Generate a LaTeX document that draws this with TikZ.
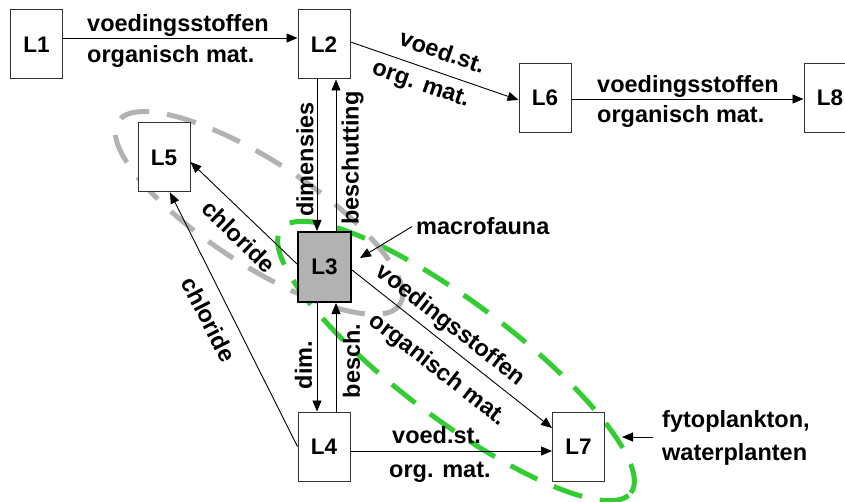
\documentclass[tikz,border=0pt]{standalone}
\usepackage{fontspec}
\setmainfont{Liberation Sans}
\usetikzlibrary{arrows.meta}
\definecolor{ellgreen}{RGB}{51,204,51}
\definecolor{ellgray}{RGB}{178,178,178}
\definecolor{boxgray}{RGB}{178,178,178}
\begin{document}
\begin{tikzpicture}[x=1pt,y=-1pt,
  box/.style={draw=black!80, line width=1pt, fill=white, minimum width=52pt, minimum height=69pt, inner sep=0pt, font=\fontsize{22.5}{26}\selectfont\bfseries},
  lbl/.style={inner sep=0pt, font=\fontsize{23.5}{28}\selectfont\bfseries},
  arr/.style={line width=0.9pt, -{Triangle[length=11pt,width=9pt]}},
  ring/.style={line width=5pt, dash pattern=on 30pt off 18pt}]
\useasboundingbox (0,0) rectangle (845,502);
\clip (0,0) rectangle (845,502);
% dashed groupings
\draw[ring, ellgreen, rotate around={-37:(456,361)}] (456,361) ellipse[x radius=219pt, y radius=58pt];
\draw[ring, ellgray, rotate around={-33:(259,213)}] (259,213) ellipse[x radius=168pt, y radius=52pt];
% boxes
\node[box] (L1) at (36.5,44.5) {L1};
\node[box] (L2) at (324,44.5) {L2};
\node[box] (L5) at (164,157.5) {L5};
\node[box] (L6) at (545,98) {L6};
\node[box] (L8) at (830,98) {L8};
\node[box, fill=boxgray, draw=black, line width=2pt, minimum width=53pt, minimum height=70pt] (L3) at (324.5,267) {L3};
\node[box] (L4) at (324,446.5) {L4};
\node[box] (L7) at (578.5,446.5) {L7};
% connectors
\draw[arr] ([yshift=6.5pt]L1.east) -- ([yshift=6.5pt]L2.west);
\draw[arr] ([yshift=2.5pt]L2.east) -- ([yshift=-2pt]L6.west);
\draw[arr] ([yshift=-1pt]L6.east) -- ([yshift=-1pt]L8.west);
\draw[arr] ([xshift=-7pt]L2.south) -- ([xshift=-7pt]L2.south |- L3.north);
\draw[arr] ([xshift=12pt]L2.south |- L3.north) -- ([xshift=12pt]L2.south);
\draw[arr] ([xshift=-7pt]L4.north |- L3.south) -- ([xshift=-7pt]L4.north);
\draw[arr] ([xshift=12pt]L4.north) -- ([xshift=12pt]L4.north |- L3.south);
\draw[arr] ([yshift=3pt]L3.west) -- ([yshift=-4.5pt]L5.east);
\draw[arr] (L4.west) -- ([xshift=6pt]L5.south);
\draw[arr] ([yshift=-3pt]L3.east) -- ([yshift=18.5pt]L7.west);
\draw[arr] ([yshift=-4.5pt]L4.east) -- ([yshift=-4.5pt]L7.west);
% labels
\node[lbl, anchor=base west] (t12a) at (87,32) {voedingsstoffen};
\node[lbl, anchor=base west] (t12b) at (87,62.5) {organisch mat.};
\node[lbl, anchor=base west] (t68a) at (597,92.5) {voedingsstoffen};
\node[lbl, anchor=base west] (t68b) at (597,122.5) {organisch mat.};
\node[lbl, anchor=base west] (t47a) at (392,443) {voed.st.};
\node[lbl, anchor=base west] (t47b) at (389,477) {org. mat.};
\node[lbl, rotate=-19] (t26a) at (442.5,51.5) {voed.st.};
\node[lbl, rotate=-19] (t26b) at (420.5,85.5) {org. mat.};
\node[lbl, rotate=-44] (t35) at (239,236.5) {chloride};
\node[lbl, rotate=-63] (t45) at (209,319.5) {chloride};
\node[lbl, rotate=90] (t23) at (305,159.5) {dimensies};
\node[lbl, rotate=90] (t32) at (352.5,158) {beschutting};
\node[lbl, rotate=90] (t34) at (303.5,365) {dim.};
\node[lbl, rotate=90] (t43) at (351.5,361) {besch.};
\node[lbl, rotate=-38] (t37a) at (450,325.5) {voedingsstoffen};
\node[lbl, rotate=-38] (t37b) at (437.5,370) {organisch mat.};
\node[lbl, anchor=base west] (macro) at (416,235) {macrofauna};
\coordinate (macrotip) at (360,258);
\draw[arr] ([xshift=-4pt]macro.west) -- (macrotip);
\node[lbl, anchor=base west] (fyto1) at (662,427) {fytoplankton,};
\node[lbl, anchor=base west] (fyto2) at (662,460) {waterplanten};
\coordinate (fytostart) at (653,437);
\coordinate (fytotip) at (622,437);
\draw[arr] (fytostart) -- (fytotip);
\end{tikzpicture}
\end{document}
